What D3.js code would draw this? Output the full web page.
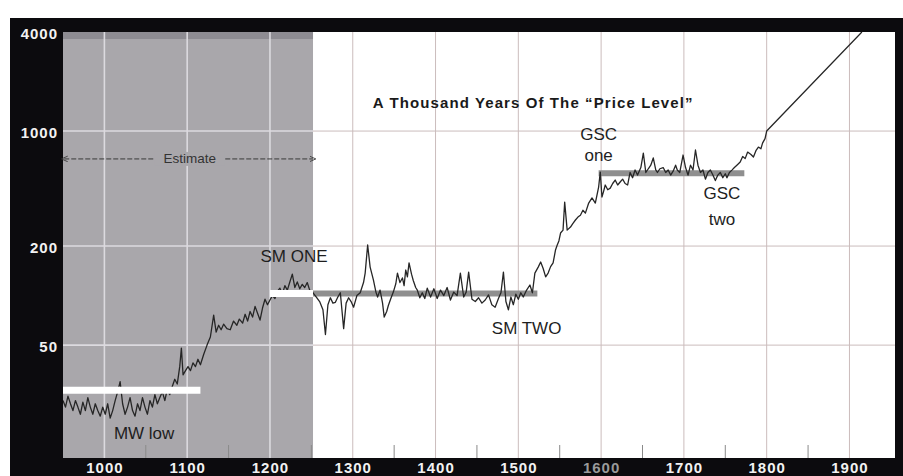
<!DOCTYPE html>
<html>
<head>
<meta charset="utf-8">
<script src="https://cdn.jsdelivr.net/npm/d3@7"></script>
<style>
body { margin: 0; background: #fff; }
</style>
</head>
<body>
<script>
// price level series (year, index)
const years = [
  950, 953, 956, 959, 962, 965, 968, 971, 974, 977, 980, 983, 986, 989, 992, 995, 998,
  1001, 1004, 1007, 1010, 1013, 1016, 1019, 1022, 1025, 1028, 1031, 1034, 1037, 1040, 1043, 1046, 1049,
  1052, 1055, 1058, 1061, 1064, 1067, 1070, 1073, 1076, 1079, 1082, 1085, 1088, 1091, 1093, 1095, 1098,
  1101, 1104, 1107, 1110, 1113, 1116, 1120, 1124, 1128, 1132, 1135, 1138, 1141, 1144, 1148,
  1152, 1156, 1160, 1163, 1167, 1170, 1173, 1176, 1179, 1182, 1185, 1188, 1191, 1194, 1197,
  1200, 1203, 1206, 1209, 1212, 1215, 1218, 1221, 1224, 1227, 1230, 1233, 1236, 1239, 1242, 1245, 1248,
  1252, 1256, 1260, 1264, 1267, 1270, 1273, 1276, 1279, 1282, 1285, 1289, 1292, 1295, 1298,
  1301, 1305, 1309, 1313, 1315, 1318, 1321, 1325, 1328, 1330, 1333, 1336, 1338, 1341, 1343, 1346, 1349,
  1352, 1354, 1357, 1360, 1362, 1364, 1366, 1368, 1371, 1373, 1376, 1378, 1381, 1384, 1387, 1390, 1394, 1398,
  1402, 1406, 1410, 1414, 1418, 1422, 1426, 1430, 1434, 1437, 1440, 1444, 1448,
  1452, 1456, 1460, 1464, 1468, 1472, 1476, 1479, 1482, 1485, 1488, 1491, 1494, 1497,
  1500, 1503, 1506, 1510, 1514, 1517, 1520, 1524, 1527, 1530, 1533, 1536, 1539, 1542, 1545, 1547, 1549,
  1551, 1554, 1556, 1559, 1563, 1566, 1569, 1572, 1575, 1578, 1581, 1585, 1589, 1593, 1597, 1599,
  1601, 1603, 1605, 1608, 1611, 1614, 1617, 1620, 1623, 1626, 1629, 1632, 1635, 1638, 1641, 1644, 1648,
  1651, 1654, 1657, 1660, 1663, 1666, 1668, 1671, 1675, 1678, 1681, 1684, 1687, 1690, 1692, 1695, 1699,
  1702, 1705, 1708, 1711, 1714, 1717, 1720, 1723, 1726, 1729, 1732, 1735, 1738, 1741, 1744, 1747, 1750,
  1752, 1755, 1758, 1761, 1764, 1768, 1771, 1774, 1777, 1781, 1784, 1787, 1790, 1793, 1795, 1798, 1800,
  1915
];
const prices = [
  23, 21, 24.5, 22, 20, 23, 21, 19, 22.5, 20, 24, 21, 19, 22, 20, 18.5, 21,
  19, 22, 18, 20, 23, 26, 30, 22, 19, 21, 24, 20, 18.5, 22, 20, 24, 21,
  19, 23, 21, 25, 22, 24, 26, 23, 27, 25, 28, 31, 29, 37, 48, 33, 35,
  37, 35, 39, 37, 41, 38, 44, 50, 56, 76, 60, 66, 62, 67, 63,
  62, 70, 66, 72, 68, 77, 70, 80, 74, 86, 78, 71, 84, 95, 88,
  94, 100, 96, 106, 111, 102, 115, 108, 121, 135, 112, 121, 110, 117, 112, 120, 108,
  104, 98, 92, 82, 58, 88, 97, 90, 91, 98, 104, 63, 90, 97, 92,
  85, 100, 104, 120, 137, 203, 149, 124, 105, 98, 108, 90, 74, 80, 87, 96, 105,
  118, 137, 120, 128, 115, 143, 130, 158, 135, 124, 112, 108, 97, 104, 96, 111, 98, 110,
  96, 108, 100, 112, 94, 105, 100, 137, 98, 105, 139, 95, 92,
  97, 90, 94, 101, 88, 85, 96, 104, 139, 92, 82, 98, 88, 102,
  95, 104, 98, 108, 116, 104, 137, 149, 160, 146, 130, 137, 150, 158, 190, 203, 215,
  240, 250, 370, 250, 261, 275, 288, 300, 308, 330, 317, 365, 392, 365, 457, 563,
  397, 430, 470, 440, 450, 480, 504, 470, 490, 510, 480, 470, 560, 520, 580, 540, 600,
  735, 560, 590, 620, 686, 580, 560, 590, 600, 560, 580, 540, 570, 620, 580, 560, 715,
  600, 540, 620, 580, 767, 620, 560, 580, 510, 560, 580, 540, 500, 540, 560, 520, 550,
  520, 560, 579, 600, 620, 648, 700, 680, 745, 720, 695, 760, 799, 780, 845, 900, 1000,
  4000
];

// horizontal reference levels
const levelNames = ['MW low', 'SM', 'GSC'];
const levelStart = [950, 1200, 1597];
const levelEnd = [1116, 1523, 1773];
const levelValue = [26.6, 103, 555];

// axis ticks
const yTickValues = [50, 200, 1000, 4000];
const xTickValues = [1000, 1100, 1200, 1300, 1400, 1500, 1600, 1700, 1800, 1900];
const xMinorTicks = [1050, 1150, 1250, 1350, 1450, 1550, 1650, 1750, 1850];
const shadeStart = 950;
const shadeEnd = 1252;

// annotations (anchored in data units)
const noteText = ['SM ONE', 'SM TWO', 'GSC', 'one', 'GSC', 'two', 'MW low'];
const noteYear = [1229, 1510, 1597, 1597, 1746, 1746, 1048];
const noteValue = [160, 58.4, 880, 657, 385, 268, 13.4];

const width = 903;
const height = 476;
const plot = {left: 63, right: 895, top: 32, bottom: 458};
const shadeColor = '#a9a7ab';

const x = d3.scaleLinear()
    .domain([950, 1955])
    .range([plot.left, plot.right]);

const y = d3.scaleLog()
    .domain([10.3, 4000])
    .range([plot.bottom, plot.top]);

const svg = d3.select('body').append('svg')
    .attr('width', width)
    .attr('height', height)
    .style('display', 'block')
    .attr('font-family', 'Liberation Sans, Arial, sans-serif');

// black frame
svg.append('rect')
    .attr('x', 10).attr('y', 18)
    .attr('width', width - 10).attr('height', height - 18)
    .attr('fill', '#0c0b0e');

svg.append('rect')
    .attr('x', plot.left).attr('y', plot.top)
    .attr('width', plot.right - plot.left).attr('height', plot.bottom - plot.top)
    .attr('fill', '#ffffff');

// estimate shading
svg.append('rect')
    .attr('x', x(shadeStart)).attr('y', plot.top)
    .attr('width', x(shadeEnd) - x(shadeStart)).attr('height', plot.bottom - plot.top)
    .attr('fill', shadeColor);

svg.append('rect')
    .attr('x', x(shadeStart)).attr('y', plot.top)
    .attr('width', x(shadeEnd) - x(shadeStart)).attr('height', 7)
    .attr('fill', '#8e8c92');

// grid
const grid = svg.append('g');
xTickValues.forEach(yr => {
    const inShade = yr < shadeEnd;
    grid.append('line')
        .attr('x1', x(yr)).attr('x2', x(yr))
        .attr('y1', plot.top).attr('y2', plot.bottom)
        .attr('stroke', inShade ? '#dcdadf' : '#cbbcbc')
        .attr('stroke-width', inShade ? 1.6 : 1);
});
yTickValues.filter(v => v < 4000).forEach(v => {
    grid.append('line')
        .attr('x1', x(shadeStart)).attr('x2', x(shadeEnd))
        .attr('y1', y(v)).attr('y2', y(v))
        .attr('stroke', '#dcdadf').attr('stroke-width', 1.6);
    grid.append('line')
        .attr('x1', x(shadeEnd)).attr('x2', plot.right)
        .attr('y1', y(v)).attr('y2', y(v))
        .attr('stroke', '#cbbcbc').attr('stroke-width', 1);
});
xMinorTicks.forEach(yr => {
    grid.append('line')
        .attr('x1', x(yr)).attr('x2', x(yr))
        .attr('y1', plot.bottom - 13).attr('y2', plot.bottom)
        .attr('stroke', '#8a8a8a').attr('stroke-width', 1);
});

// reference levels: gray on white, white on the shaded part
const levels = levelNames.map((name, i) => ({
    name, start: levelStart[i], end: levelEnd[i], value: levelValue[i]
}));

svg.append('g').selectAll('line')
    .data(levels.filter(d => d.end > shadeEnd))
    .join('line')
    .attr('x1', d => x(Math.max(d.start, shadeEnd)))
    .attr('x2', d => x(d.end))
    .attr('y1', d => y(d.value)).attr('y2', d => y(d.value))
    .attr('stroke', '#8f8f8f')
    .attr('stroke-width', 6);

svg.append('clipPath').attr('id', 'clip')
    .append('rect')
    .attr('x', plot.left).attr('y', plot.top)
    .attr('width', plot.right - plot.left).attr('height', plot.bottom - plot.top);

const series = years.map((yr, i) => ({year: yr, value: prices[i]}));

const line = d3.line()
    .x(d => x(d.year))
    .y(d => y(d.value));

svg.append('path')
    .datum(series)
    .attr('clip-path', 'url(#clip)')
    .attr('fill', 'none')
    .attr('stroke', '#262626')
    .attr('stroke-width', 1.3)
    .attr('stroke-linejoin', 'round')
    .attr('d', line);

svg.append('g').selectAll('line')
    .data(levels.filter(d => d.start < shadeEnd))
    .join('line')
    .attr('x1', d => x(d.start))
    .attr('x2', d => x(Math.min(d.end, shadeEnd)))
    .attr('y1', d => y(d.value)).attr('y2', d => y(d.value))
    .attr('stroke', '#ffffff')
    .attr('stroke-width', 7);

// "Estimate" arrow across the shaded years
const estY = y(677);
svg.append('defs').selectAll('marker')
    .data(['start', 'end'])
    .join('marker')
    .attr('id', d => 'arrow-' + d)
    .attr('viewBox', '0 0 10 10')
    .attr('refX', 5).attr('refY', 5)
    .attr('markerWidth', 7).attr('markerHeight', 7)
    .attr('orient', d => d === 'end' ? 'auto' : 'auto-start-reverse')
    .append('path')
    .attr('d', 'M0,1 L9,5 L0,9')
    .attr('fill', 'none')
    .attr('stroke', '#333')
    .attr('stroke-width', 1.2);

svg.append('line')
    .attr('x1', x(951.5)).attr('x2', x(1252))
    .attr('y1', estY).attr('y2', estY)
    .attr('stroke', '#3a3a3a')
    .attr('stroke-width', 1)
    .attr('stroke-dasharray', '5,2')
    .attr('marker-start', 'url(#arrow-start)')
    .attr('marker-end', 'url(#arrow-end)');

svg.append('rect')
    .attr('x', x(1103) - 35).attr('y', estY - 7)
    .attr('width', 70).attr('height', 14)
    .attr('fill', shadeColor);

svg.append('text')
    .attr('x', x(1103)).attr('y', estY + 4.5)
    .attr('text-anchor', 'middle')
    .attr('font-size', 13.5)
    .attr('fill', '#333')
    .text('Estimate');

// title
svg.append('text')
    .attr('x', x(1518)).attr('y', y(1381))
    .attr('text-anchor', 'middle')
    .attr('font-size', 15)
    .attr('font-weight', 'bold')
    .attr('letter-spacing', 1.1)
    .attr('fill', '#1a1a1a')
    .text('A Thousand Years Of The \u201CPrice Level\u201D');

// labels on the chart
svg.append('g').selectAll('text')
    .data(noteText)
    .join('text')
    .attr('x', (d, i) => x(noteYear[i]))
    .attr('y', (d, i) => y(noteValue[i]))
    .attr('text-anchor', 'middle')
    .attr('font-size', 17)
    .attr('fill', '#1e1e1e')
    .text(d => d);

// axes
const yAxis = d3.axisLeft(y)
    .tickValues(yTickValues)
    .tickFormat(d3.format('d'))
    .tickSize(0)
    .tickPadding(5);

const xAxis = d3.axisBottom(x)
    .tickValues(xTickValues)
    .tickFormat(d3.format('d'))
    .tickSize(0)
    .tickPadding(4);

const gy = svg.append('g')
    .attr('transform', `translate(${plot.left},0)`)
    .call(yAxis);

const gx = svg.append('g')
    .attr('transform', `translate(0,${plot.bottom})`)
    .call(xAxis);

[gx, gy].forEach(g => {
    g.select('.domain').remove();
    g.selectAll('text')
        .attr('fill', '#f2f2f2')
        .attr('font-size', 15)
        .attr('font-weight', 'bold')
        .attr('letter-spacing', 1)
        .attr('font-family', 'Liberation Sans, Arial, sans-serif');
});
gy.selectAll('text').attr('dy', '0.4em');
gx.selectAll('text').filter(d => d === 1600).attr('fill', '#9a9a9a');
</script>
</body>
</html>
